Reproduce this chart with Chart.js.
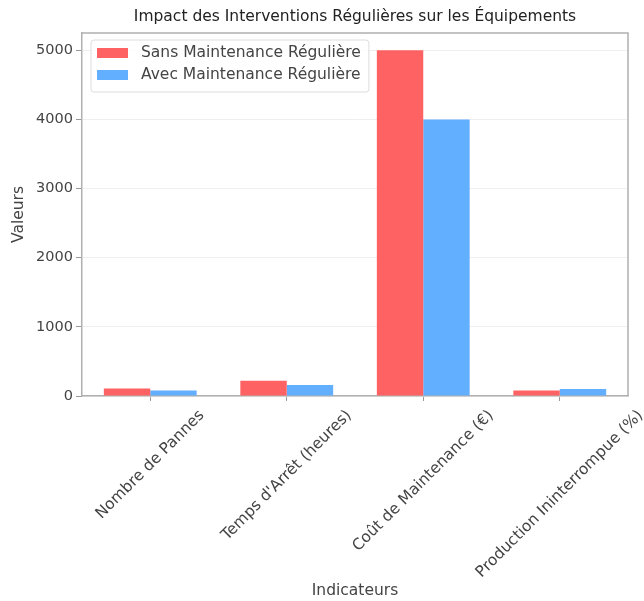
<!DOCTYPE html>
<html>
<head>
<meta charset="utf-8">
<script src="https://cdn.jsdelivr.net/npm/chart.js@4.4.1/dist/chart.umd.min.js"></script>
<style>
  html, body { margin: 0; padding: 0; background: #fff; }
  #wrap { width: 644px; height: 601px; }
</style>
</head>
<body>
<div id="wrap"><canvas id="chart" width="644" height="601"></canvas></div>
<script>
// data
var categories = ["Nombre de Pannes", "Temps d'Arrêt (heures)", "Coût de Maintenance (€)", "Production Ininterrompue (%)"];
var sansMaintenance = [110, 220, 5000, 80];
var avecMaintenance = [80, 160, 4000, 100];
var yTicks = [0, 1000, 2000, 3000, 4000, 5000];

var FONT = "'DejaVu Sans', sans-serif";
var RED = "#ff6262";
var BLUE = "#62aeff";

// title, legend, top/right frame and centred rotated x labels
var extras = {
    id: "extras",
    afterDraw: function(chart) {
        var ctx = chart.ctx, a = chart.chartArea;
        ctx.save();
        ctx.strokeStyle = "#b0b0b0";
        ctx.lineWidth = 1.5;
        ctx.beginPath();
        ctx.moveTo(a.left, a.top);
        ctx.lineTo(a.right, a.top);
        ctx.lineTo(a.right, a.bottom);
        ctx.stroke();

        // title
        ctx.fillStyle = "#222";
        ctx.font = "15.5px " + FONT;
        ctx.textAlign = "center";
        ctx.textBaseline = "middle";
        ctx.fillText("Impact des Interventions Régulières sur les Équipements", (a.left + a.right) / 2, 17);

        // x labels, rotated 45 and centred on the tick
        var xs = chart.scales.x;
        ctx.font = "15.5px " + FONT;
        ctx.fillStyle = "#444";
        xs.ticks.forEach(function(t, i) {
            var txt = categories[i];
            var L = ctx.measureText(txt).width, h = 17;
            var H = (L + h) * Math.SQRT1_2;
            var cx = xs.getPixelForTick(i), cy = a.bottom + 11 + H / 2;
            ctx.save();
            ctx.translate(cx, cy);
            ctx.rotate(-Math.PI / 4);
            ctx.fillText(txt, 0, 0);
            ctx.restore();
        });

        // legend
        ctx.font = "15.5px " + FONT;
        var items = [[chart.data.datasets[0].label, RED], [chart.data.datasets[1].label, BLUE]];
        var tw = Math.max(ctx.measureText(items[0][0]).width, ctx.measureText(items[1][0]).width);
        var lx = a.left + 9, ly = a.top + 7, lw = 50 + tw + 8, lh = 52;
        ctx.fillStyle = "rgba(255,255,255,0.8)";
        ctx.strokeStyle = "#dddddd";
        ctx.lineWidth = 1;
        ctx.beginPath();
        ctx.roundRect(lx, ly, lw, lh, 3);
        ctx.fill();
        ctx.stroke();
        ctx.textAlign = "left";
        items.forEach(function(it, i) {
            var y = ly + 13 + i * 22;
            ctx.fillStyle = it[1];
            ctx.fillRect(lx + 6, y - 5, 31, 10);
            ctx.fillStyle = "#444";
            ctx.fillText(it[0], lx + 50, y);
        });
        ctx.restore();
    }
};

new Chart(document.getElementById("chart"), {
    type: "bar",
    data: {
        labels: categories,
        datasets: [{
            label: "Sans Maintenance Régulière",
            data: sansMaintenance,
            backgroundColor: RED,
            categoryPercentage: 0.68,
            barPercentage: 1.0
        }, {
            label: "Avec Maintenance Régulière",
            data: avecMaintenance,
            backgroundColor: BLUE,
            categoryPercentage: 0.68,
            barPercentage: 1.0
        }]
    },
    options: {
        responsive: false,
        animation: false,
        layout: { padding: { top: 33, right: 16, left: 0, bottom: 0 } },
        plugins: {
            legend: { display: false },
            title: { display: false },
            tooltip: { enabled: false }
        },
        scales: {
            x: {
                grid: { drawOnChartArea: false, offset: false, tickLength: 5, tickColor: "#999" },
                border: { color: "#b0b0b0", width: 1.5 },
                ticks: { display: false },
                title: {
                    display: true,
                    text: "Indicateurs",
                    color: "#444",
                    font: { family: FONT, size: 15.5 },
                    padding: { top: 4, bottom: 1 }
                },
                afterFit: function(s) { s.height = 205; }
            },
            y: {
                min: 0,
                max: 5250,
                grid: { color: "#efefef", tickLength: 6, tickColor: "#999" },
                border: { color: "#b0b0b0", width: 1.5 },
                ticks: {
                    color: "#444",
                    font: { family: FONT, size: 14.5 },
                    padding: 3,
                    callback: function(v) { return String(v); }
                },
                afterBuildTicks: function(s) {
                    s.ticks = yTicks.map(function(v) { return { value: v }; });
                },
                title: {
                    display: true,
                    text: "Valeurs",
                    color: "#444",
                    font: { family: FONT, size: 15.5 },
                    padding: { top: 10, bottom: 4 }
                },
                afterFit: function(s) { s.width = 82; }
            }
        }
    },
    plugins: [extras]
});
</script>
</body>
</html>
